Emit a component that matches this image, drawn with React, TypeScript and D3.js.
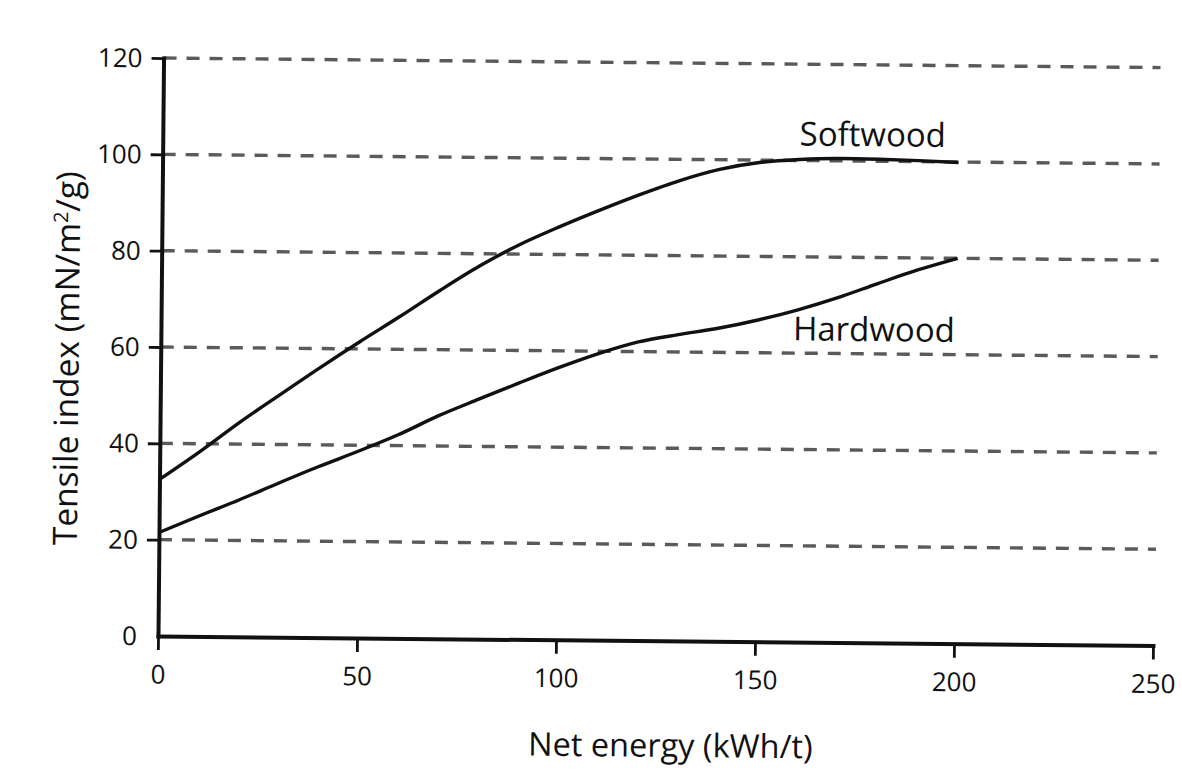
import React, { useEffect, useRef } from 'react';
import * as d3 from 'd3';

// values
const energy = [0, 10, 20, 30, 40, 50, 60, 70, 80, 90, 100, 110, 120, 130, 140, 150, 160, 170, 180, 190, 200];
const softwood = [32.5, 38.3, 44.5, 50.3, 56, 61.5, 66.8, 72.3, 77.5, 82, 85.8, 89.3, 92.6, 95.6, 98, 99.5, 100.2, 100.5, 100.4, 100.2, 99.9];
const hardwood = [21.5, 25, 28.4, 32, 35.5, 38.8, 42.3, 46.3, 49.8, 53.2, 56.5, 59.5, 62, 63.6, 65, 66.8, 69, 71.6, 74.6, 77.5, 80];
const xTicks = [0, 50, 100, 150, 200, 250];
const yTicks = [0, 20, 40, 60, 80, 100, 120];
const gridLines = [20, 40, 60, 80, 100, 120];

const FONT = '"Open Sans", "DejaVu Sans", sans-serif';
const INK = '#111';

export default function App() {
  const svgRef = useRef<SVGSVGElement>(null);

  useEffect(() => {
    if (!svgRef.current) return;
    const svg = d3.select(svgRef.current);
    svg.selectAll('*').remove();

    const x = d3.scaleLinear().domain([0, 250]).range([158, 1153]);
    const y = d3.scaleLinear().domain([0, 120]).range([636, 58]);

    svg.append('rect').attr('width', 1182).attr('height', 780).attr('fill', '#fff');

    // the scanned figure sits slightly tilted
    const g = svg.append('g')
      .attr('transform', `rotate(0.55, ${x(0)}, ${y(0)})`)
      .attr('font-family', FONT)
      .attr('font-weight', 500);

    // dashed grid
    g.append('g')
      .selectAll('line')
      .data(gridLines)
      .enter()
      .append('line')
      .attr('x1', x(0))
      .attr('x2', x(250) + 2)
      .attr('y1', d => y(d))
      .attr('y2', d => y(d))
      .attr('stroke', '#5a5a5a')
      .attr('stroke-width', 3.4)
      .attr('stroke-dasharray', '13 10');

    // axes
    const yAxis = g.append('g')
      .attr('transform', `translate(${x(0)},0)`)
      .call(d3.axisLeft(y).tickValues(yTicks).tickSize(12).tickSizeOuter(0).tickPadding(9));
    const xAxis = g.append('g')
      .attr('transform', `translate(0,${y(0)})`)
      .call(d3.axisBottom(x).tickValues(xTicks).tickSize(14).tickSizeOuter(0).tickPadding(15));

    [yAxis, xAxis].forEach(ax => {
      ax.attr('font-family', FONT).attr('font-size', 26).attr('font-weight', 500);
      ax.select('.domain').attr('stroke', INK).attr('stroke-width', 4).attr('stroke-linecap', 'square');
      ax.selectAll('.tick line').attr('stroke', INK).attr('stroke-width', 2.8);
      ax.selectAll('.tick text').attr('fill', INK);
    });
    yAxis.selectAll('.tick')
      .filter((d: any) => d === 0)
      .select('line').remove();
    yAxis.selectAll('.tick text').attr('dy', '0.34em');

    // curves
    const line = d3.line<number>()
      .x((_, i) => x(energy[i]))
      .y(d => y(d))
      .curve(d3.curveMonotoneX);

    [softwood, hardwood].forEach(series => {
      g.append('path')
        .attr('d', line(series))
        .attr('fill', 'none')
        .attr('stroke', INK)
        .attr('stroke-width', 3.4);
    });

    // curve labels
    g.append('text')
      .attr('x', x(160))
      .attr('y', y(100) - 15)
      .attr('font-size', 33)
      .attr('fill', INK)
      .text('Softwood');
    g.append('text')
      .attr('x', x(158.8))
      .attr('y', y(67) + 21)
      .attr('font-size', 33)
      .attr('fill', INK)
      .text('Hardwood');

    // axis titles
    g.append('text')
      .attr('x', x(129))
      .attr('y', 752)
      .attr('text-anchor', 'middle')
      .attr('font-size', 32.5)
      .attr('fill', INK)
      .text('Net energy (kWh/t)');

    const yt = g.append('text')
      .attr('transform', `translate(76,${y(57.5)}) rotate(-90)`)
      .attr('text-anchor', 'middle')
      .attr('font-size', 33.5)
      .attr('fill', INK);
    yt.append('tspan').text('Tensile index (mN/m');
    yt.append('tspan').attr('font-size', 20).attr('dy', -12).text('2');
    yt.append('tspan').attr('dy', 12).text('/g)');
  }, []);

  return (
    <svg
      ref={svgRef}
      width={1182}
      height={780}
      style={{ position: 'absolute', left: 0, top: 0, display: 'block' }}
    />
  );
}
